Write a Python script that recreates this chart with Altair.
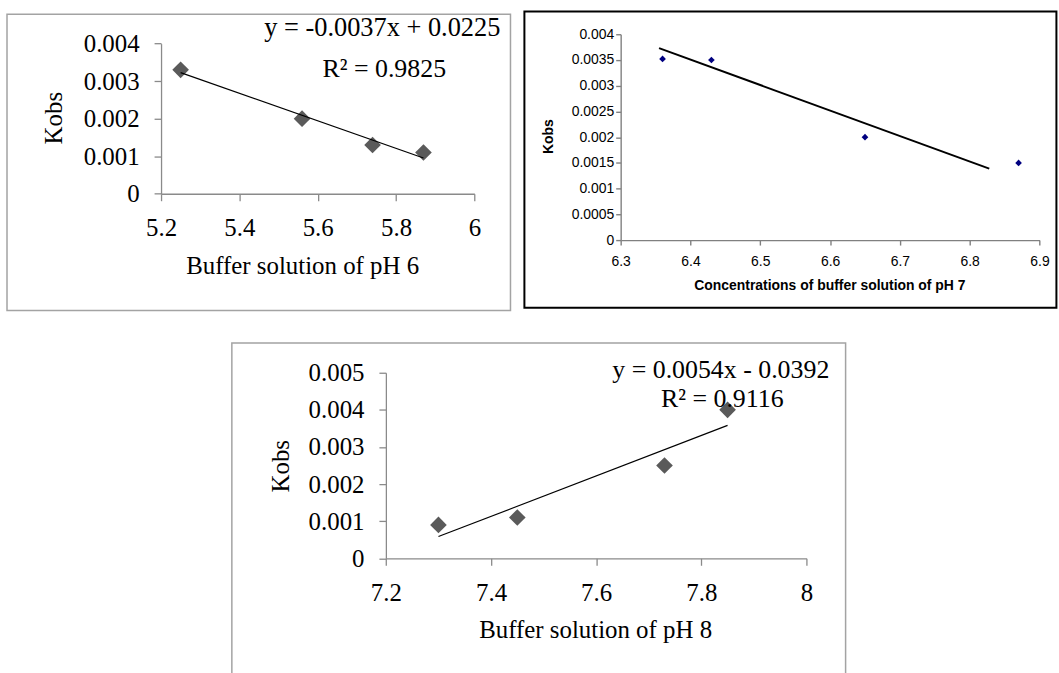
import altair as alt
import pandas as pd

# Observed rate constant (Kobs) against buffer concentration for three buffer systems
ph6_conc = [5.25, 5.56, 5.74, 5.87]
ph6_kobs = [0.0033, 0.0020, 0.0013, 0.0011]
ph6_fit = ["y = -0.0037x + 0.0225", "R² = 0.9825"]

ph7_conc = [6.36, 6.43, 6.65, 6.87]
ph7_kobs = [0.00352, 0.0035, 0.0020, 0.0015]
ph7_trend_conc = [6.355, 6.828]
ph7_trend_kobs = [0.00373, 0.00139]

ph8_conc = [7.30, 7.45, 7.73, 7.85]
ph8_kobs = [0.0009, 0.0011, 0.0025, 0.0040]
ph8_fit = ["y = 0.0054x - 0.0392", "R² = 0.9116"]

ph6_xticks = [5.2, 5.4, 5.6, 5.8, 6]
ph6_yticks = [0, 0.001, 0.002, 0.003, 0.004]
ph7_xticks = [6.3, 6.4, 6.5, 6.6, 6.7, 6.8, 6.9]
ph7_yticks = [0, 0.0005, 0.001, 0.0015, 0.002, 0.0025, 0.003, 0.0035, 0.004]
ph8_xticks = [7.2, 7.4, 7.6, 7.8, 8]
ph8_yticks = [0, 0.001, 0.002, 0.003, 0.004, 0.005]

SERIF = "Liberation Serif"
SANS = "Liberation Sans"
AXIS_GRAY = "#8a8a8a"
BOX_GRAY = "#a3a3a3"
MARKER_GRAY = "#5a5a5a"
NAVY = "#000080"

# every cell of the grid has the same view size; each plot sits inside it via scale ranges
CELL_W, CELL_H = 440, 207


def frame(x1, x2, y1, y2, color, width):
    return alt.Chart(alt.Data(values=[{}])).mark_rect(
        filled=False, color=color, strokeWidth=width
    ).encode(x=alt.value(x1), x2=alt.value(x2), y=alt.value(y1), y2=alt.value(y2))


def label(text, x, y, font, size, weight="normal", angle=0, align="center",
          baseline="alphabetic"):
    return alt.Chart(alt.Data(values=[{"t": text}])).mark_text(
        font=font, fontSize=size, fontWeight=weight, angle=angle, align=align,
        baseline=baseline, color="black"
    ).encode(x=alt.value(x), y=alt.value(y), text="t:N")


def axis(values, font, size, tick, pad, color, width, offset=0):
    return alt.Axis(
        values=values, format="~g", title=None, grid=False, offset=offset,
        tickSize=tick, labelPadding=pad, labelFont=font, labelFontSize=size,
        labelColor="black", domainColor=color, tickColor=color,
        domainWidth=width, tickWidth=width, labelFlush=False, labelOverlap=False,
    )


# ---- pH 6 ----
df6 = pd.DataFrame({"conc": ph6_conc, "kobs": ph6_kobs})
x6 = alt.X("conc:Q",
           scale=alt.Scale(domain=[5.2, 6], range=[0, 315.1], nice=False, zero=False),
           axis=axis(ph6_xticks, SERIF, 25, 7, 15, AXIS_GRAY, 1.3, offset=-46.6))
y6 = alt.Y("kobs:Q",
           scale=alt.Scale(domain=[0, 0.004], range=[160.4, 9.4], nice=False),
           axis=axis(ph6_yticks, SERIF, 25, 7, 15, AXIS_GRAY, 1.3))
pts6 = alt.Chart(df6).mark_point(
    shape="diamond", filled=True, size=280, color=MARKER_GRAY, opacity=1
).encode(x=x6, y=y6)
fit6 = alt.Chart(df6).transform_regression("conc", "kobs").mark_line(
    color="black", strokeWidth=1.2
).encode(x=x6, y=y6)
panel6 = alt.layer(
    frame(-154.9, 351.4, -20, 277.7, BOX_GRAY, 1.5),
    pts6, fit6,
    label(ph6_fit[0], 222.5, 1.7, SERIF, 26.5),
    label(ph6_fit[1], 224.5, 42.7, SERIF, 26),
    label("Kobs", -107.6, 84.4, SERIF, 25, angle=270, baseline="middle"),
    label("Buffer solution of pH 6", 142.4, 240.7, SERIF, 25),
).properties(width=CELL_W, height=CELL_H)

# ---- pH 7 ----
df7 = pd.DataFrame({"conc": ph7_conc, "kobs": ph7_kobs})
trend7 = pd.DataFrame({"conc": ph7_trend_conc, "kobs": ph7_trend_kobs})
x7 = alt.X("conc:Q",
           scale=alt.Scale(domain=[6.3, 6.9], range=[0, 421.2], nice=False, zero=False),
           axis=axis(ph7_xticks, SANS, 14, 5, 10, "#808080", 1.4))
y7 = alt.Y("kobs:Q",
           scale=alt.Scale(domain=[0, 0.004], range=[207, 0], nice=False),
           axis=axis(ph7_yticks, SANS, 14, 5, 2, "#808080", 1.4))
pts7 = alt.Chart(df7).mark_point(
    shape="diamond", filled=True, size=45, color=NAVY, opacity=1
).encode(x=x7, y=y7)
fit7 = alt.Chart(trend7).mark_line(color="black", strokeWidth=2).encode(x=x7, y=y7)
panel7 = alt.layer(
    frame(-96.8, 438.2, -22.8, 275, "black", 2),
    pts7, fit7,
    label("Kobs", -72, 103, SANS, 14, weight="bold", angle=270, baseline="middle"),
    label("Concentrations of buffer solution of pH 7", 210.4, 252.7, SANS, 14,
          weight="bold", baseline="middle"),
).properties(width=CELL_W, height=CELL_H)

# ---- pH 8 ----
df8 = pd.DataFrame({"conc": ph8_conc, "kobs": ph8_kobs})
x8 = alt.X("conc:Q",
           scale=alt.Scale(domain=[7.2, 8], range=[226.1, 649], nice=False, zero=False),
           axis=axis(ph8_xticks, SERIF, 25, 7, 15, AXIS_GRAY, 1.3, offset=-20.4))
y8 = alt.Y("kobs:Q",
           scale=alt.Scale(domain=[0, 0.005], range=[186.6, 0], nice=False),
           axis=axis(ph8_yticks, SERIF, 25, 7, 15, AXIS_GRAY, 1.3, offset=-226.1))
pts8 = alt.Chart(df8).mark_point(
    shape="diamond", filled=True, size=280, color=MARKER_GRAY, opacity=1
).encode(x=x8, y=y8)
fit8 = alt.Chart(df8).transform_regression("conc", "kobs").mark_line(
    color="black", strokeWidth=1.2
).encode(x=x8, y=y8)
panel8 = alt.layer(
    frame(71.2, 688.4, -30, 317.3, BOX_GRAY, 1.5),
    pts8, fit8,
    label(ph8_fit[0], 562.9, 5.6, SERIF, 26),
    label(ph8_fit[1], 564.4, 34.6, SERIF, 26),
    label("Kobs", 121, 94, SERIF, 25, angle=270, baseline="middle"),
    label("Buffer solution of pH 8", 437, 266.8, SERIF, 25),
).properties(width=CELL_W, height=CELL_H)

chart = alt.concat(
    panel6, panel7, panel8,
    columns=2, bounds="flush",
    spacing={"row": 133.4, "column": 22.2},
).properties(
    padding={"left": 5.95, "top": 8.5, "right": 0, "bottom": 0},
    background="white",
).configure_view(strokeWidth=0)

chart.save("out.html", embed_options={"renderer": "svg", "actions": False})
